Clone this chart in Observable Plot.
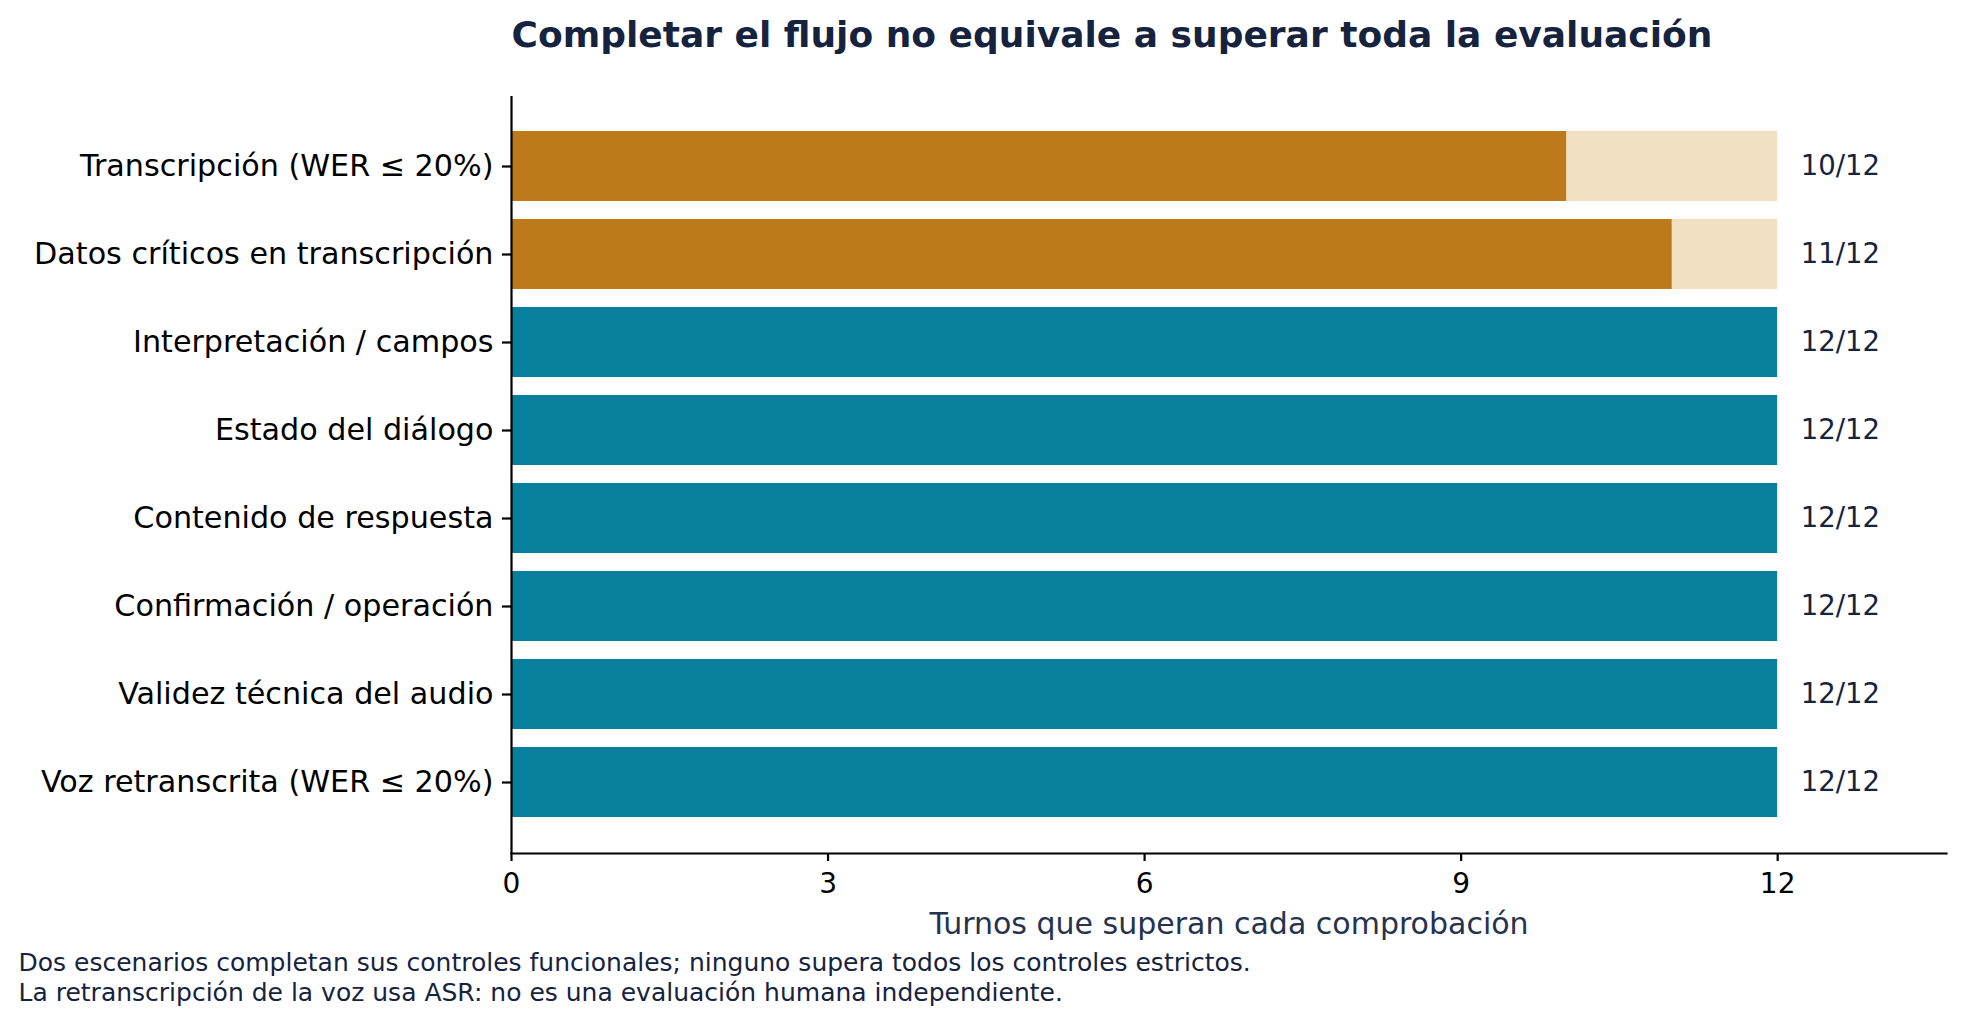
<!DOCTYPE html>
<html>
<head>
<meta charset="utf-8">
<script src="https://cdn.jsdelivr.net/npm/d3@7"></script>
<script src="https://cdn.jsdelivr.net/npm/@observablehq/plot@0.6"></script>
<style>
  html, body { margin: 0; padding: 0; background: #fff; overflow: hidden; }
</style>
</head>
<body>
<div id="chart"></div>
<script>
const checks = [
  "Transcripción (WER ≤ 20%)",
  "Datos críticos en transcripción",
  "Interpretación / campos",
  "Estado del diálogo",
  "Contenido de respuesta",
  "Confirmación / operación",
  "Validez técnica del audio",
  "Voz retranscrita (WER ≤ 20%)"
];
const passed = [10, 11, 12, 12, 12, 12, 12, 12];
const totals = [12, 12, 12, 12, 12, 12, 12, 12];
const xTicks = [0, 3, 6, 9, 12];
const xDomain = [0, 13.6];

const titleText = "Completar el flujo no equivale a superar toda la evaluación";
const xLabel = "Turnos que superan cada comprobación";
const captionLines = [
  "Dos escenarios completan sus controles funcionales; ninguno supera todos los controles estrictos.",
  "La retranscripción de la voz usa ASR: no es una evaluación humana independiente."
];

const colorPartial = "#BC7A1A";
const colorPartialBg = "#F2E0C2";
const colorFull = "#087F9D";
const navy = "#16233F";

const rows = checks.map((c, i) => ({check: c, passed: passed[i], total: totals[i]}));

const chart = Plot.plot({
  width: 1963,
  height: 1027,
  marginLeft: 511,
  marginRight: 17,
  marginTop: 96,
  marginBottom: 174,
  style: {fontFamily: "DejaVu Sans", fontSize: "28px", color: "black", background: "white"},
  x: {domain: xDomain, label: null},
  y: {domain: checks, paddingInner: 0.2, paddingOuter: 0.39, label: null},
  marks: [
    Plot.barX(rows.filter(d => d.passed < d.total), {x: "total", y: "check", fill: colorPartialBg}),
    Plot.barX(rows, {x: "passed", y: "check", fill: d => d.passed < d.total ? colorPartial : colorFull}),
    Plot.text(rows, {
      x: "total", y: "check", text: d => `${d.passed}/${d.total}`,
      textAnchor: "start", dx: 23, fill: navy, fontSize: 27.5
    }),
    Plot.axisX({ticks: xTicks, tickSize: 8, tickPadding: 12, strokeWidth: 2.2, fontSize: 28, label: null}),
    Plot.axisY({tickSize: 9, tickPadding: 9, strokeWidth: 2.2, fontSize: 30.2, label: null}),
    Plot.ruleX([0], {stroke: "black", strokeWidth: 2.2}),
    Plot.frame({anchor: "bottom", stroke: "black", strokeWidth: 2.2}),
    Plot.text([xLabel], {frameAnchor: "bottom", lineAnchor: "middle", dy: 71, fontSize: 30, fill: "#26334F", textAnchor: "middle"}),
    Plot.text([titleText], {frameAnchor: "top-left", lineAnchor: "middle", dy: -61, fontSize: 36, fontWeight: "bold", fill: navy, textAnchor: "start"}),
    Plot.text([captionLines[0]], {frameAnchor: "bottom-left", lineAnchor: "middle", dx: -493, dy: 109, fontSize: 25, fill: navy, textAnchor: "start"}),
    Plot.text([captionLines[1]], {frameAnchor: "bottom-left", lineAnchor: "middle", dx: -493, dy: 139, fontSize: 25, fill: navy, textAnchor: "start"})
  ]
});
document.getElementById("chart").appendChild(chart);
</script>
</body>
</html>
